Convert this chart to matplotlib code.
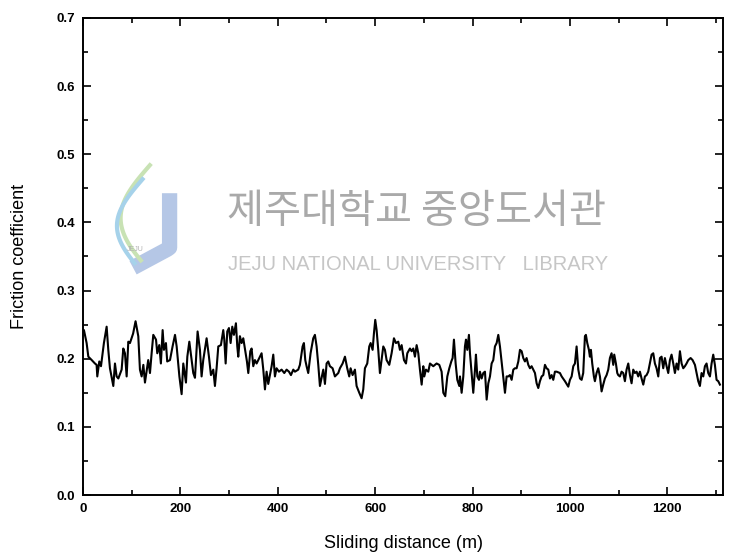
import numpy as np
import matplotlib.pyplot as plt
from matplotlib.ticker import MultipleLocator

# sliding distance (m) and friction coefficient
distance = [
    0, 2, 7.5, 11, 18, 24.6, 28, 29.4, 33.5, 37, 43, 48.6, 52, 55.4, 62.3, 65.7,
    69.1, 72.6, 79.4, 82.8, 86.2, 89.7, 93.1, 96.5, 103, 108, 113.6, 117, 120.5,
    124, 127.3, 134, 137.6, 141, 144.4, 150, 152.6, 156.7, 160, 163.6, 166.3,
    170.4, 173, 178.7, 184, 189, 192.4, 198, 202.6, 206, 211.5, 214.3, 218.4,
    226.5, 230, 235.4, 240.2, 243.6, 247, 253.9, 258.7, 262.8, 267.6, 271, 274.4,
    277.9, 283.3, 288.1, 290.2, 293, 296.3, 299.8, 303.2, 306.6, 310, 314.1,
    316.9, 318.9, 322.3, 325.8, 329.2, 332.6, 336.7, 339.5, 343.6, 346.3, 349.7,
    353.1, 356.6, 360, 366.8, 370.3, 373.7, 377.1, 380.5, 387.4, 390.8, 394.2,
    397.6, 402.4, 407.9, 413.4, 418.2, 423, 427.1, 431.9, 435.3, 442.1, 445.5,
    451, 453.7, 456.5, 459.2, 462.6, 467.4, 472.9, 476.3, 479.8, 483.2, 486.6,
    493.5, 496.9, 500.3, 503.7, 507.1, 512.6, 517.4, 524.3, 527.7, 533.2, 538,
    542.7, 546.8, 549.6, 553.7, 558.5, 561.9, 567.4, 572.2, 575.6, 579, 583.8,
    587.9, 590.7, 594.8, 597.5, 600.2, 603, 606.4, 609.8, 613.2, 616.7, 620.1,
    623.5, 629, 633.8, 638.6, 642.7, 647.5, 650.9, 654.4, 659.2, 663.3, 666,
    671.5, 674.9, 678.3, 681.7, 685.2, 688.6, 692, 695.5, 698.9, 700.9, 704.3,
    709.1, 712.6, 716, 719.4, 726.2, 731.7, 736.5, 740, 744, 748.2, 752.3, 756.4,
    759.1, 761.8, 765.3, 768.7, 772.8, 774.2, 777.6, 781, 784.4, 786.5, 789.2,
    792.6, 794.7, 798.1, 801.5, 805, 807, 809.8, 813.2, 815.2, 818.7, 822.1,
    825.5, 829, 832.4, 835.8, 839.2, 842.6, 846, 849.5, 852.9, 856.3, 859.7,
    863.2, 866.6, 870, 873.4, 876.8, 880.3, 883.7, 887.1, 890.5, 894, 897.4,
    900.8, 904.2, 907.6, 911, 914.5, 917.9, 921.3, 924.8, 928.2, 931.6, 935,
    938.4, 941.9, 945.3, 948.7, 952.1, 955.6, 959, 962.4, 965.8, 969.2, 972.7,
    979.5, 983, 989.8, 996.6, 1000, 1003.5, 1006.9, 1010.3, 1013.7, 1017.2,
    1020.6, 1024, 1027.3, 1030.8, 1032.8, 1035.6, 1039, 1041, 1043.1, 1045.8,
    1049.2, 1051.3, 1054.7, 1058.1, 1061.6, 1065, 1068.4, 1071.8, 1075.3, 1078.7,
    1082.1, 1085.5, 1089, 1091, 1094.4, 1097.2, 1099.2, 1102.6, 1106.1, 1109.5,
    1112.9, 1116.3, 1119.8, 1123.2, 1126.6, 1130, 1133.4, 1136.9, 1140.3, 1143.7,
    1147.1, 1150.6, 1154, 1157.4, 1160.8, 1164.2, 1167.7, 1171.1, 1174.5, 1177.9,
    1181.4, 1184.8, 1188.2, 1191.6, 1195, 1198.5, 1201.9, 1205.3, 1208.7, 1212.2,
    1215.6, 1219, 1222.4, 1225.9, 1229.3, 1232.7, 1236.1, 1239.5, 1243, 1247.8,
    1251.9, 1256.7, 1260.1, 1263.5, 1266.9, 1270.3, 1273.8, 1277.2, 1280.6, 1284,
    1287.5, 1290.9, 1294.3, 1297.7, 1301.1, 1304.6, 1308,
]
friction = [
    0.240, 0.242, 0.223, 0.203, 0.198, 0.193, 0.191, 0.174, 0.196, 0.189, 0.223,
    0.247, 0.213, 0.186, 0.160, 0.193, 0.174, 0.171, 0.184, 0.215, 0.208, 0.174,
    0.225, 0.223, 0.237, 0.255, 0.233, 0.184, 0.174, 0.191, 0.165, 0.198, 0.179,
    0.208, 0.235, 0.228, 0.208, 0.220, 0.193, 0.242, 0.213, 0.223, 0.196, 0.198,
    0.218, 0.235, 0.218, 0.174, 0.148, 0.193, 0.165, 0.203, 0.225, 0.179, 0.172,
    0.240, 0.213, 0.174, 0.198, 0.230, 0.203, 0.176, 0.184, 0.160, 0.186, 0.218,
    0.220, 0.242, 0.228, 0.193, 0.240, 0.245, 0.223, 0.247, 0.235, 0.252, 0.218,
    0.203, 0.233, 0.223, 0.230, 0.215, 0.196, 0.179, 0.211, 0.215, 0.189, 0.198,
    0.193, 0.198, 0.208, 0.184, 0.155, 0.181, 0.163, 0.189, 0.206, 0.174, 0.186,
    0.181, 0.184, 0.179, 0.184, 0.181, 0.176, 0.184, 0.181, 0.184, 0.191, 0.218,
    0.223, 0.198, 0.189, 0.179, 0.208, 0.230, 0.235, 0.218, 0.191, 0.160, 0.184,
    0.163, 0.193, 0.196, 0.189, 0.186, 0.174, 0.179, 0.186, 0.193, 0.203, 0.186,
    0.174, 0.186, 0.176, 0.184, 0.160, 0.150, 0.142, 0.155, 0.186, 0.193, 0.218,
    0.223, 0.213, 0.237, 0.257, 0.242, 0.213, 0.179, 0.198, 0.218, 0.213, 0.198,
    0.191, 0.208, 0.230, 0.223, 0.225, 0.213, 0.220, 0.198, 0.193, 0.208, 0.215,
    0.211, 0.215, 0.203, 0.220, 0.208, 0.184, 0.162, 0.189, 0.174, 0.184, 0.181,
    0.193, 0.191, 0.189, 0.193, 0.191, 0.181, 0.150, 0.145, 0.174, 0.186, 0.196,
    0.201, 0.228, 0.193, 0.169, 0.160, 0.174, 0.150, 0.174, 0.218, 0.228, 0.213,
    0.235, 0.208, 0.179, 0.150, 0.184, 0.206, 0.174, 0.169, 0.181, 0.171, 0.179,
    0.181, 0.140, 0.164, 0.174, 0.193, 0.198, 0.218, 0.223, 0.235, 0.218, 0.196,
    0.174, 0.150, 0.174, 0.174, 0.176, 0.169, 0.184, 0.186, 0.186, 0.196, 0.213,
    0.211, 0.201, 0.196, 0.201, 0.191, 0.186, 0.189, 0.184, 0.179, 0.164, 0.157,
    0.167, 0.174, 0.176, 0.191, 0.186, 0.184, 0.171, 0.176, 0.169, 0.181, 0.181,
    0.179, 0.174, 0.167, 0.159, 0.169, 0.174, 0.189, 0.193, 0.218, 0.184, 0.171,
    0.169, 0.179, 0.233, 0.235, 0.223, 0.213, 0.203, 0.213, 0.193, 0.174, 0.167,
    0.179, 0.186, 0.174, 0.152, 0.162, 0.171, 0.176, 0.184, 0.201, 0.208, 0.191,
    0.206, 0.193, 0.179, 0.176, 0.174, 0.181, 0.179, 0.167, 0.184, 0.193, 0.176,
    0.164, 0.184, 0.179, 0.181, 0.174, 0.181, 0.171, 0.162, 0.174, 0.176, 0.181,
    0.193, 0.206, 0.208, 0.193, 0.186, 0.174, 0.201, 0.203, 0.186, 0.201, 0.189,
    0.179, 0.198, 0.206, 0.193, 0.179, 0.193, 0.184, 0.211, 0.193, 0.186, 0.189,
    0.193, 0.198, 0.201, 0.198, 0.191, 0.179, 0.167, 0.160, 0.179, 0.174, 0.189,
    0.193, 0.179, 0.174, 0.193, 0.206, 0.191, 0.169, 0.167, 0.162,
]

plt.rcParams['font.family'] = ['Liberation Sans', 'DejaVu Sans']

fig = plt.figure(figsize=(7.31, 5.60), dpi=100)
ax = fig.add_axes([0.1135, 0.116, 0.876, 0.852])

# faint library watermark behind the data
wm = dict(transform=fig.transFigure, ha='left', va='center', zorder=0)
fig.text(0.31, 0.622, '제주대학교 중앙도서관', fontsize=29, color='#a9a9a9',
         family=['Noto Sans CJK KR', 'DejaVu Sans'], **wm)
fig.text(0.312, 0.527, 'JEJU NATIONAL UNIVERSITY   LIBRARY', fontsize=14.5,
         color='#c6c6c6', **wm)

# rough version of the logo: a pale "J" and two flame strokes
t = np.linspace(0, 1, 60)
jx = np.where(t < 0.7, 0.232, 0.232 - 0.05 * np.sin((t - 0.7) / 0.3 * np.pi / 2))
jy = np.where(t < 0.7, 0.655 - 0.14 * t, 0.557 - 0.035 * np.sin((t - 0.7) / 0.3 * np.pi / 2))
fig.add_artist(plt.Line2D(jx, jy, color='#b5c7e6', lw=11, solid_capstyle='butt',
                          transform=fig.transFigure, zorder=0))
fig.add_artist(plt.Line2D(0.205 - 0.04 * np.sin(t * np.pi * 0.9), 0.705 - 0.17 * t,
                          color='#c8e2b4', lw=3, transform=fig.transFigure, zorder=0))
fig.add_artist(plt.Line2D(0.195 - 0.035 * np.sin(t * np.pi * 0.9), 0.68 - 0.15 * t,
                          color='#a6d2ea', lw=3, transform=fig.transFigure, zorder=0))
fig.text(0.185, 0.555, 'JEJU', fontsize=5, color='#b0b0b0', ha='center',
         va='center', zorder=0)
ax.patch.set_alpha(0)

ax.plot(distance, friction, color='black', lw=1.5)

ax.set_xlim(0, 1315)
ax.set_ylim(0.0, 0.7)
ax.xaxis.set_major_locator(MultipleLocator(200))
ax.xaxis.set_minor_locator(MultipleLocator(100))
ax.yaxis.set_major_locator(MultipleLocator(0.1))
ax.yaxis.set_minor_locator(MultipleLocator(0.05))
ax.yaxis.set_major_formatter(plt.FuncFormatter(lambda v, p: f'{v:.1f}'))
ax.tick_params(which='both', direction='in', top=True, right=True, width=1.2)
ax.tick_params(which='major', length=6, labelsize=9.5, pad=6)
ax.tick_params(which='minor', length=3.5)
for lab in ax.get_xticklabels() + ax.get_yticklabels():
    lab.set_fontweight('bold')
for s in ax.spines.values():
    s.set_linewidth(1.4)

ax.set_xlabel('Sliding distance (m)', fontsize=13, labelpad=14)
ax.set_ylabel('Friction coefficient', fontsize=13, labelpad=20)

fig.savefig('out.png', dpi=100)
